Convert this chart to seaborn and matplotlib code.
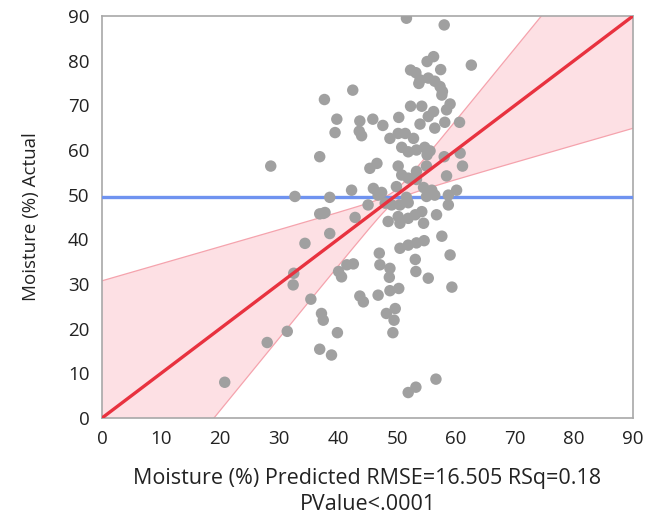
import numpy as np
import pandas as pd
import matplotlib
matplotlib.use("Agg")
import matplotlib.pyplot as plt
import seaborn as sns

# ---- data ----
predicted = [51.6, 58.0, 56.2, 55.1, 62.6, 52.3, 53.2, 57.4, 53.9, 55.3,
             53.7, 56.4, 57.3, 57.7, 57.6, 42.5, 37.7, 52.3, 54.2, 59.0,
             56.2, 58.4, 39.8, 39.5, 43.7, 43.6, 44.0, 45.9, 47.6, 50.3,
             53.9, 55.3, 56.4, 58.1, 60.6, 48.8, 50.2, 51.4, 52.8, 36.9,
             50.8, 51.9, 53.3, 54.7, 55.6, 55.1, 58.0, 60.7, 61.1, 45.4,
             46.6, 50.2, 55.0, 58.4, 50.8, 51.9, 53.3, 53.3, 49.9, 54.5,
             55.9, 60.1, 42.3, 46.0, 38.6, 46.8, 51.6, 58.7, 37.5, 42.9,
             45.1, 38.6, 48.0, 49.1, 50.5, 51.9, 48.5, 50.2, 50.5, 51.9,
             53.1, 54.2, 54.5, 56.7, 58.7, 55.0, 56.4, 57.6, 50.5, 51.9,
             53.3, 54.6, 47.0, 59.0, 47.1, 48.8, 53.1, 41.5, 42.6, 40.1,
             40.6, 48.7, 53.2, 55.3, 59.3, 43.7, 44.3, 46.8, 48.8, 50.3,
             48.2, 49.7, 49.5, 37.2, 37.5, 39.9, 49.3, 36.9, 38.9, 56.6,
             53.2, 51.9, 28.6, 32.7, 36.9, 37.8, 34.4, 32.5, 32.4, 35.4,
             31.4, 28.0, 20.8, 47.4]
actual = [89.5, 88.0, 80.9, 79.8, 79.0, 77.9, 77.3, 78.0, 75.7, 76.1,
          74.9, 75.4, 74.2, 73.1, 72.3, 73.4, 71.3, 69.8, 69.8, 70.3,
          68.6, 69.0, 66.9, 63.9, 66.5, 64.2, 63.2, 66.9, 65.5, 67.3,
          65.8, 67.5, 64.9, 66.2, 66.2, 62.6, 63.7, 63.7, 62.6, 58.5,
          60.6, 59.6, 60.0, 60.6, 59.8, 58.9, 58.5, 59.3, 56.4, 55.9,
          57.0, 56.4, 56.4, 54.2, 54.4, 53.7, 55.2, 53.4, 51.8, 51.6,
          51.0, 51.0, 51.0, 51.4, 49.4, 49.9, 49.4, 49.9, 45.8, 44.9,
          47.7, 41.3, 48.1, 47.7, 47.7, 48.2, 44.0, 45.1, 43.6, 44.7,
          45.5, 46.2, 43.6, 45.5, 47.7, 49.6, 49.9, 40.7, 38.0, 38.7,
          39.2, 39.7, 36.9, 36.5, 34.3, 33.5, 35.5, 34.3, 34.5, 32.8,
          31.6, 31.5, 32.8, 31.3, 29.3, 27.3, 26.0, 27.5, 28.5, 29.0,
          23.4, 24.5, 21.9, 23.4, 21.9, 19.1, 19.1, 15.4, 14.1, 8.7,
          6.9, 5.7, 56.4, 49.6, 45.7, 46.0, 39.1, 32.4, 29.8, 26.6,
          19.4, 16.9, 8.0, 50.5]

axis_ticks = [0, 10, 20, 30, 40, 50, 60, 70, 80, 90]
mean_actual = 49.5        # horizontal mean line
band_center = 49.5        # x where confidence curves pinch
band_slope = 0.62         # asymptotic spread of confidence curves
band_waist = 2.0          # half-width at the pinch
xlabel_text = "Moisture (%) Predicted RMSE=16.505 RSq=0.18\nPValue<.0001"
ylabel_text = "Moisture (%) Actual"

df = pd.DataFrame({"pred": predicted, "act": actual})

sns.set_style("white")
plt.rcParams["font.family"] = ["Open Sans", "DejaVu Sans"]

fig = plt.figure(figsize=(6.51, 5.25), dpi=100)
ax = fig.add_axes([102 / 651, 1 - 418 / 525, (633 - 102) / 651, (418 - 16) / 525])

lo, hi = axis_ticks[0], axis_ticks[-1]
xs = np.linspace(lo, hi, 400)
spread = band_slope * np.sqrt(band_waist ** 2 + (xs - band_center) ** 2)
upper = xs + spread
lower = xs - spread

ax.fill_between(xs, lower, upper, color="#fde0e4", zorder=1, linewidth=0)
ax.plot(xs, upper, color="#f5a3ad", lw=0.9, zorder=2)
ax.plot(xs, lower, color="#f5a3ad", lw=0.9, zorder=2)

ax.axhline(mean_actual, color="#6f93f0", lw=2.4, zorder=3)

sns.scatterplot(data=df, x="pred", y="act", ax=ax, color="#a0a0a0",
                s=68, edgecolor="none", linewidth=0, zorder=4)

sns.lineplot(x=[lo, hi], y=[lo, hi], ax=ax, color="#e8323f", lw=2.4, zorder=5)

ax.set_xlim(lo, hi)
ax.set_ylim(lo, hi)
ax.set_xticks(axis_ticks)
ax.set_yticks(axis_ticks)
ax.set_xticklabels([str(t) for t in axis_ticks])
ax.set_yticklabels([str(t) for t in axis_ticks])

for sp in ax.spines.values():
    sp.set_visible(True)
    sp.set_color("#a8a8a8")
    sp.set_linewidth(1.2)

ax.tick_params(axis="both", which="major", direction="out", length=6,
               width=1.0, color="#a8a8a8", labelsize=13.5,
               labelcolor="#222222", pad=3)

ax.set_xlabel(xlabel_text, fontsize=15.5, color="#222222", linespacing=1.3,
              labelpad=14)
ax.set_ylabel(ylabel_text, fontsize=13.5, color="#222222", labelpad=20)

fig.savefig("out.png", dpi=100)
